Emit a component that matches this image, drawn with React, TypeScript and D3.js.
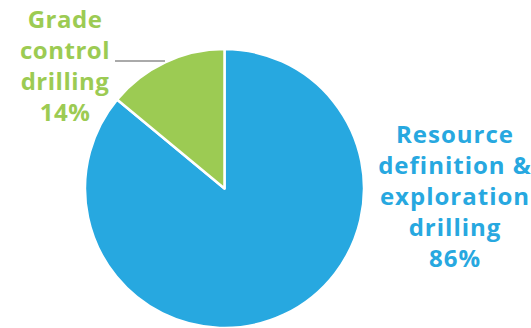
import React from "react";
import * as d3 from "d3";

const categories = ["Resource definition & exploration drilling", "Grade control drilling"];
const values = [86, 14];
const colors = ["#27A8E0", "#9CCB53"];
const labelLines = [
  ["Resource", "definition &", "exploration", "drilling", "86%"],
  ["Grade", "control", "drilling", "14%"],
];

const W = 531;
const H = 328;

export default function App() {
  const cx = 224.5;
  const cy = 188.5;
  const r = 139.5;
  const pie = d3.pie<number>().sort(null).value((d) => d);
  const arcs = pie(values);
  const arc = d3.arc<d3.PieArcDatum<number>>().innerRadius(0).outerRadius(r);
  const font = "'Open Sans', sans-serif";
  const lh = 31;
  return (
    <svg width={W} height={H} style={{ position: "absolute", left: 0, top: 0, background: "#fff" }}>
      <g transform={`translate(${cx},${cy})`}>
        {arcs.map((a, i) => (
          <path key={categories[i]} d={arc(a) || ""} fill={colors[i]} stroke="#fff" strokeWidth={2.5} strokeLinejoin="round" />
        ))}
      </g>
      <line x1={115} y1={61} x2={165} y2={61} stroke="#aaaaaa" strokeWidth={2} />
      <text fontFamily={font} fontWeight={700} fontSize={24} letterSpacing={1} fill={colors[0]} textAnchor="middle">
        {labelLines[0].map((t, j) => (
          <tspan key={j} x={455} y={143 + j * lh}>{t}</tspan>
        ))}
      </text>
      <text fontFamily={font} fontWeight={700} fontSize={24} letterSpacing={0.5} fill={colors[1]} textAnchor="middle">
        {labelLines[1].map((t, j) => (
          <tspan key={j} x={65} y={28 + j * lh}>{t}</tspan>
        ))}
      </text>
    </svg>
  );
}
